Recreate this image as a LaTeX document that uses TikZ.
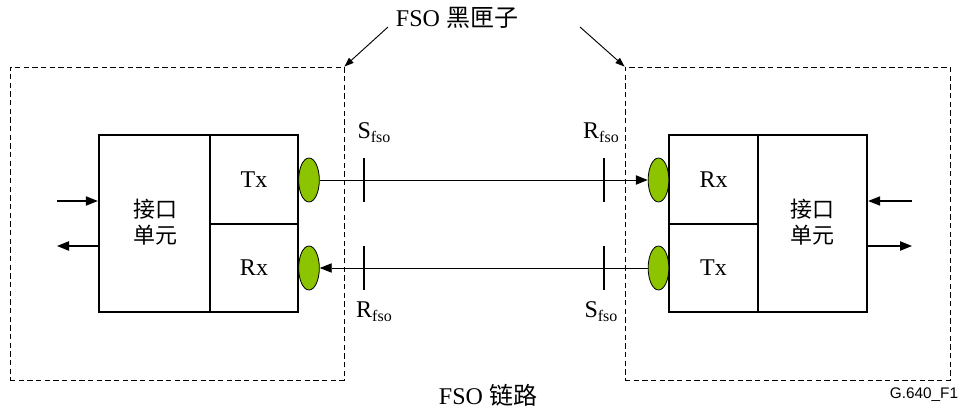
\documentclass[tikz,border=0pt]{standalone}
\usepackage{fontspec}
\setmainfont{Liberation Serif}
\setsansfont{Liberation Sans}
\newfontfamily\cjk{Noto Sans CJK SC}
\usetikzlibrary{arrows.meta,shapes.geometric}
\definecolor{lensgreen}{RGB}{140,196,0}
\tikzset{
  cell/.style={draw, line width=1.8pt, inner sep=0pt, minimum width=#1},
  bbox/.style={draw, dashed, dash pattern=on 4pt off 2.5pt, line width=0.6pt, inner sep=0pt, minimum height=234.75pt},
  lens/.style={ellipse, draw, fill=lensgreen, line width=0.6pt, inner sep=0pt, minimum width=15.5pt, minimum height=33pt},
  beam/.style={line width=0.7pt, -{Triangle[length=9pt,width=7pt]}},
  ext/.style={line width=0.8pt, -{Triangle[length=9pt,width=7pt]}},
  callout/.style={line width=0.7pt, -{Triangle[length=7pt,width=5pt]}},
  tick/.style={line width=0.9pt},
  lbl/.style={font=\fontsize{18}{20}\selectfont, inner sep=0pt},
  cjklbl/.style={font=\cjk\fontsize{16.5}{20}\selectfont, align=center, inner sep=0pt}
}
\newcommand{\sub}[2]{#1\raisebox{-0.35ex}{\fontsize{12}{12}\selectfont #2}}
\begin{document}
\begin{tikzpicture}[x=0.75pt,y=-0.75pt]
\useasboundingbox (0,0) rectangle (961,410);
% dashed black boxes
\node[bbox, minimum width=250.5pt] (bbL) at (177,223.5) {};
\node[bbox, minimum width=243.75pt] (bbR) at (787.5,223.5) {};
% left equipment
\node[cell=83.25pt, minimum height=132.75pt] (iuL) at (154.5,223.5) {};
\node[cell=66pt, minimum height=66.75pt] (txL) at (254,179.5) {};
\node[cell=66pt, minimum height=66pt] (rxL) at (254,268) {};
\node[cjklbl] at (155,222) {接口\\单元};
\node[lbl] at (txL) {Tx};
\node[lbl] at (rxL) {Rx};
% right equipment
\node[cell=66.75pt, minimum height=66.75pt] (rxR) at (713.5,179.5) {};
\node[cell=66.75pt, minimum height=66pt] (txR) at (713.5,268) {};
\node[cell=81.75pt, minimum height=132.75pt] (iuR) at (812.5,223.5) {};
\node[cjklbl] at (812.5,222) {接口\\单元};
\node[lbl] at (rxR) {Rx};
\node[lbl] at (txR) {Tx};
% lenses
\node[lens] (lLT) at (309,180) {};
\node[lens] (lLR) at (309,268) {};
\node[lens] (lRR) at (658.5,180) {};
\node[lens] (lRT) at (658.5,268) {};
% beams
\draw[beam] (lLT.east) -- (lRR.west);
\draw[beam] (lRT.west) -- (lLR.east);
% reference point ticks
\coordinate (t1a) at (364,158); \coordinate (t1b) at (364,202);
\coordinate (t2a) at (364,246); \coordinate (t2b) at (364,290);
\coordinate (t3a) at (604,158); \coordinate (t3b) at (604,202);
\coordinate (t4a) at (604,246); \coordinate (t4b) at (604,290);
\draw[tick] (t1a) -- (t1b);
\draw[tick] (t2a) -- (t2b);
\draw[tick] (t3a) -- (t3b);
\draw[tick] (t4a) -- (t4b);
\node[lbl] (sL) at (374,133) {\sub{S}{fso}};
\node[lbl] (rL) at (374,312) {\sub{R}{fso}};
\node[lbl] (rR) at (601,133) {\sub{R}{fso}};
\node[lbl] (sR) at (601,312) {\sub{S}{fso}};
% external interfaces
\coordinate (inL) at (57,201);
\coordinate (outL) at (57,246);
\coordinate (inR) at (912,201);
\coordinate (outR) at (912,246);
\draw[ext] (inL) -- (inL -| iuL.west);
\draw[ext] (outL -| iuL.west) -- (outL);
\draw[ext] (inR) -- (inR -| iuR.east);
\draw[ext] (outR -| iuR.east) -- (outR);
% titles
\node[font=\fontsize{18}{20}\selectfont, inner sep=0pt] (title) at (457,18) {FSO {\cjk 黑匣子}};
\coordinate (cL) at (388,27);
\coordinate (cR) at (580,27);
\draw[callout] (cL) -- (bbL.north east);
\draw[callout] (cR) -- (bbR.north west);
\node[font=\fontsize{18}{20}\selectfont, inner sep=0pt] (link) at (488,395) {FSO {\cjk 链路}};
\node[font=\sffamily\fontsize{11.5}{13}\selectfont, inner sep=0pt] (fig) at (924,395) {G.640\_F1};
\end{tikzpicture}
\end{document}
